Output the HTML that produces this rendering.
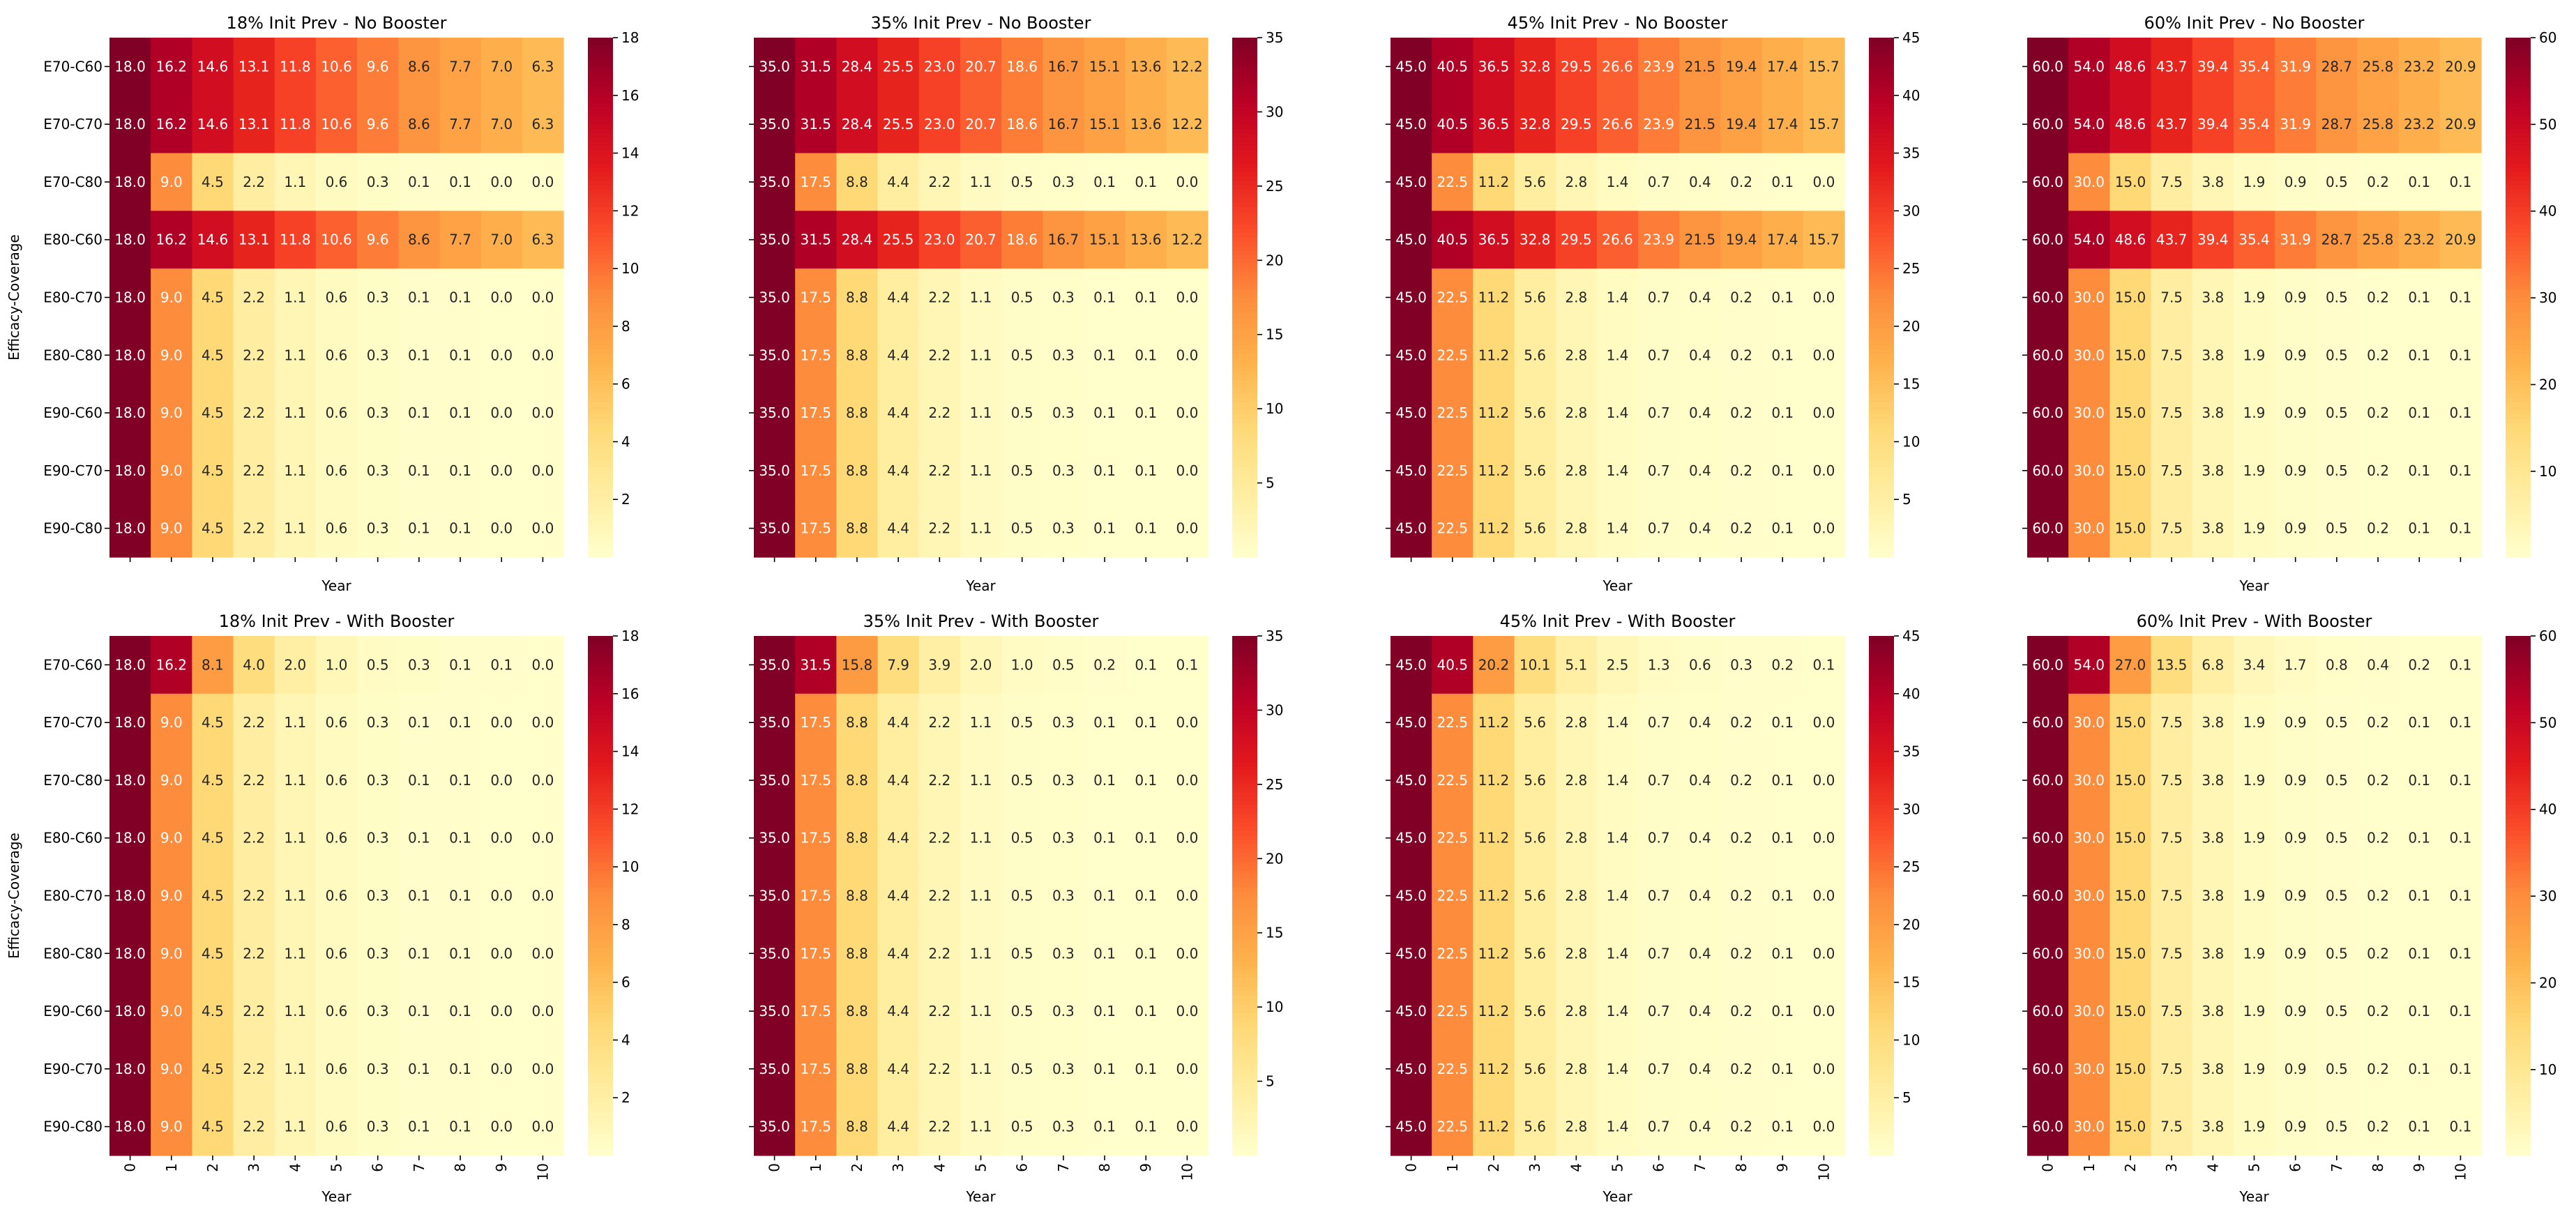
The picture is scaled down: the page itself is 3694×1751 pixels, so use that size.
<!DOCTYPE html>
<html><head><meta charset="utf-8">
<style>
html,body{margin:0;padding:0;background:#fff;}
svg{display:block;font-family:"DejaVu Sans","Liberation Sans",sans-serif;}
</style></head>
<body>
<svg id="chart" width="3694" height="1751" viewBox="0 0 3694 1751" xmlns="http://www.w3.org/2000/svg"></svg>
<script>
// ---- data ----
const rowLabels = ["E70-C60","E70-C70","E70-C80","E80-C60","E80-C70","E80-C80","E90-C60","E90-C70","E90-C80"];
const yearLabels = ["0","1","2","3","4","5","6","7","8","9","10"];
const slow18 = [18.0,16.2,14.6,13.1,11.8,10.6,9.6,8.6,7.7,7.0,6.3];
const fast18 = [18.0,9.0,4.5,2.2,1.1,0.6,0.3,0.1,0.1,0.0,0.0];
const boost18 = [18.0,16.2,8.1,4.0,2.0,1.0,0.5,0.3,0.1,0.1,0.0];
const slow35 = [35.0,31.5,28.4,25.5,23.0,20.7,18.6,16.7,15.1,13.6,12.2];
const fast35 = [35.0,17.5,8.8,4.4,2.2,1.1,0.5,0.3,0.1,0.1,0.0];
const boost35 = [35.0,31.5,15.8,7.9,3.9,2.0,1.0,0.5,0.2,0.1,0.1];
const slow45 = [45.0,40.5,36.5,32.8,29.5,26.6,23.9,21.5,19.4,17.4,15.7];
const fast45 = [45.0,22.5,11.2,5.6,2.8,1.4,0.7,0.4,0.2,0.1,0.0];
const boost45 = [45.0,40.5,20.2,10.1,5.1,2.5,1.3,0.6,0.3,0.2,0.1];
const slow60 = [60.0,54.0,48.6,43.7,39.4,35.4,31.9,28.7,25.8,23.2,20.9];
const fast60 = [60.0,30.0,15.0,7.5,3.8,1.9,0.9,0.5,0.2,0.1,0.1];
const boost60 = [60.0,54.0,27.0,13.5,6.8,3.4,1.7,0.8,0.4,0.2,0.1];
const noBooster18 = [slow18,slow18,fast18,slow18,fast18,fast18,fast18,fast18,fast18];
const noBooster35 = [slow35,slow35,fast35,slow35,fast35,fast35,fast35,fast35,fast35];
const noBooster45 = [slow45,slow45,fast45,slow45,fast45,fast45,fast45,fast45,fast45];
const noBooster60 = [slow60,slow60,fast60,slow60,fast60,fast60,fast60,fast60,fast60];
const withBooster18 = [boost18,fast18,fast18,fast18,fast18,fast18,fast18,fast18,fast18];
const withBooster35 = [boost35,fast35,fast35,fast35,fast35,fast35,fast35,fast35,fast35];
const withBooster45 = [boost45,fast45,fast45,fast45,fast45,fast45,fast45,fast45,fast45];
const withBooster60 = [boost60,fast60,fast60,fast60,fast60,fast60,fast60,fast60,fast60];
const ticks18 = [2,4,6,8,10,12,14,16,18];
const ticks35 = [5,10,15,20,25,30,35];
const ticks45 = [5,10,15,20,25,30,35,40,45];
const ticks60 = [10,20,30,40,50,60];
const panelTitles = ["18% Init Prev - No Booster","35% Init Prev - No Booster","45% Init Prev - No Booster","60% Init Prev - No Booster",
  "18% Init Prev - With Booster","35% Init Prev - With Booster","45% Init Prev - With Booster","60% Init Prev - With Booster"];
const panelData = [noBooster18,noBooster35,noBooster45,noBooster60,withBooster18,withBooster35,withBooster45,withBooster60];
const panelTicks = [ticks18,ticks35,ticks45,ticks60,ticks18,ticks35,ticks45,ticks60];

// ---- layout ----
const NS = "http://www.w3.org/2000/svg";
const svg = document.getElementById('chart');
const colLefts = [157,1081,1994,2907];
const rowTops = [54,912];
const HW = 651, HH = 745;
const stops = ["#ffffcc","#ffeda0","#fed976","#feb24c","#fd8d3c","#fc4e2a","#e31a1c","#bd0026","#800026"];
function hex(c){return [parseInt(c.substr(1,2),16),parseInt(c.substr(3,2),16),parseInt(c.substr(5,2),16)];}
function cmap(t){
  t=Math.max(0,Math.min(1,t));
  const p=t*(stops.length-1);const i=Math.min(Math.floor(p),stops.length-2);const f=p-i;
  const a=hex(stops[i]),b=hex(stops[i+1]);
  return [0,1,2].map(k=>Math.round(a[k]+(b[k]-a[k])*f));
}
function lum(rgb){const c=rgb.map(v=>{v/=255;return v<=0.03928?v/12.92:Math.pow((v+0.055)/1.055,2.4);});return 0.2126*c[0]+0.7152*c[1]+0.0722*c[2];}
function el(tag,attrs,parent){const e=document.createElementNS(NS,tag);for(const k in attrs)e.setAttribute(k,attrs[k]);(parent||svg).appendChild(e);return e;}

panelData.forEach((data,pi)=>{
  const col=pi%4,row=Math.floor(pi/4);
  const x0=colLefts[col],y0=rowTops[row];
  const nR=data.length,nC=data[0].length;
  const cw=HW/nC,ch=HH/nR;
  let vmin=Infinity,vmax=-Infinity;
  data.forEach(r=>r.forEach(v=>{vmin=Math.min(vmin,v);vmax=Math.max(vmax,v);}));
  const xs=j=>x0+j*cw, ys=i=>y0+i*ch, norm=v=>(v-vmin)/(vmax-vmin);
  const g=el('g',{});
  
  
  const t=el('text',{x:x0+HW/2,y:y0-13,'text-anchor':'middle','font-size':24,fill:'#000'},g);
  t.textContent=panelTitles[pi];
  
  
  data.forEach((r,i)=>r.forEach((v,j)=>{
    const rgb=cmap(norm(v));
    const rc=el('rect',{x:xs(j),y:ys(i),width:cw+0.6,height:ch+0.6,fill:'rgb('+rgb.join(',')+')'},g);
    
    
    const tx=el('text',{x:xs(j)+cw/2,y:ys(i)+ch/2+7,'text-anchor':'middle','font-size':20,fill:lum(rgb)>0.408?'#262626':'#fff'},g);
    tx.textContent=v.toFixed(1);
    
    
  }));
  // y ticks
  rowLabels.forEach((lab,i)=>{
    const yc=ys(i)+ch/2;
    el('line',{x1:x0-7,x2:x0,y1:yc,y2:yc,stroke:'#000','stroke-width':1.6},g);
    if(col===0){
      const yl=el('text',{x:x0-10,y:yc+7,'text-anchor':'end','font-size':20,fill:'#000'},g);
      yl.textContent=lab;
      
      
    }
  });
  // x ticks
  yearLabels.forEach((lab,j)=>{
    const xc=xs(j)+cw/2;
    el('line',{x1:xc,x2:xc,y1:y0+HH,y2:y0+HH+7,stroke:'#000','stroke-width':1.6},g);
    if(row===1){
      const xl=el('text',{x:0,y:0,'text-anchor':'end','font-size':20,fill:'#000',transform:'translate('+(xc+7)+','+(y0+HH+11)+') rotate(-90)'},g);
      xl.textContent=lab;
      
      
    }
  });
  const xt=el('text',{x:x0+HW/2,y:row===0?y0+HH+48:y0+HH+66,'text-anchor':'middle','font-size':20,fill:'#000'},g);
  xt.textContent='Year';
  
  
  if(col===0){
    const yt=el('text',{x:0,y:0,'text-anchor':'middle','font-size':20,fill:'#000',transform:'translate(27,'+(y0+HH/2)+') rotate(-90)'},g);
    yt.textContent='Efficacy-Coverage';
    
    
  }
  // colorbar
  const cbx=x0+686,cbw=36;
  const cb=el('g',{},g);
  
  
  const nSeg=120;
  for(let k=0;k<nSeg;k++){
    const rgb=cmap((k+0.5)/nSeg);
    el('rect',{x:cbx,y:y0+HH-(k+1)*HH/nSeg,width:cbw,height:HH/nSeg+0.8,fill:'rgb('+rgb.join(',')+')'},cb);
  }
  const cy=v=>y0+HH-norm(v)*HH;
  panelTicks[pi].forEach(tv=>{
    const yy=cy(tv);
    el('line',{x1:cbx+cbw,x2:cbx+cbw+7,y1:yy,y2:yy,stroke:'#000','stroke-width':1.6},cb);
    const tl=el('text',{x:cbx+cbw+12,y:yy+7,'font-size':20,fill:'#000'},cb);
    tl.textContent=String(tv);
    
    
  });
});
</script>
</body></html>
